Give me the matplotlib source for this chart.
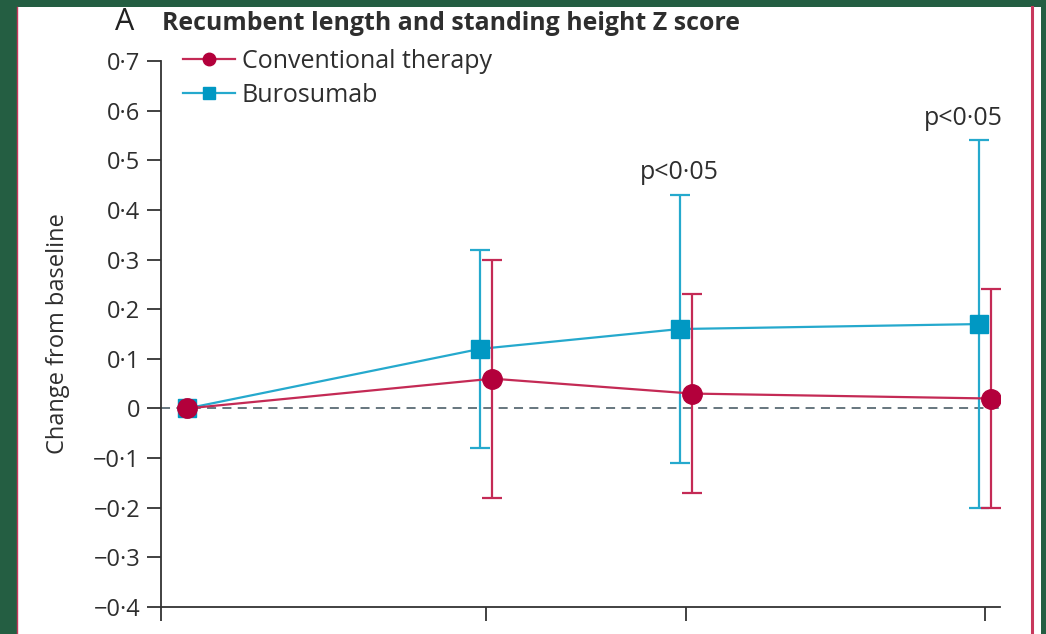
import matplotlib
matplotlib.use('Agg')
import matplotlib.pyplot as plt
from matplotlib.patches import Rectangle
from matplotlib.lines import Line2D


# weeks since baseline
weeks = [0, 24, 40, 64]

conventional_mean = [0.0, 0.06, 0.03, 0.02]
conventional_err = [0.0, 0.24, 0.20, 0.22]

burosumab_mean = [0.0, 0.12, 0.16, 0.17]
burosumab_err = [0.0, 0.20, 0.27, 0.37]

# weeks where burosumab differs, p<0.05
sig_weeks = [40, 64]
sig_label = 'p<0\u00b705'

y_ticks = [-0.4, -0.3, -0.2, -0.1, 0.0, 0.1, 0.2, 0.3, 0.4, 0.5, 0.6, 0.7]

RED = '#b3003b'
RED_LINE = '#c42a55'
BLUE = '#0098c3'
BLUE_LINE = '#25a9cd'
AXIS = '#333333'
TEXT = '#2e2e2e'
GREEN = '#245e42'

plt.rcParams['font.family'] = ['Open Sans', 'DejaVu Sans']

W, H = 1046, 634
fig = plt.figure(figsize=(W / 100, H / 100), dpi=100)
fig.patch.set_facecolor(GREEN)

# white page with the red rules on either side
fig.patches.append(Rectangle((17 / W, 0), (1041 - 17) / W, (H - 7) / H,
                             transform=fig.transFigure, facecolor='white',
                             edgecolor='none', zorder=-2))
fig.lines.append(Line2D([16.8 / W, 16.8 / W], [0, (H - 7) / H], transform=fig.transFigure,
                        color='#c8385c', lw=1.0, zorder=-1))
fig.lines.append(Line2D([1031.5 / W, 1031.5 / W], [0, (H - 7) / H], transform=fig.transFigure,
                        color='#c8385c', lw=2.2, zorder=-1))

ax = fig.add_axes([161 / W, 1 - 607 / H, (1000 - 161) / W, (607 - 61) / H])
ax.set_facecolor('none')
ax.set_zorder(2)

shift = 0.5
blue_x = [w - shift if w else w for w in weeks]
red_x = [w + shift if w else w for w in weeks]

ax.axhline(0, color='#5a6b74', lw=1.3, ls=(0, (5, 3.5)), zorder=1)

ax.errorbar(blue_x, burosumab_mean, yerr=burosumab_err, color=BLUE_LINE, lw=1.6,
            elinewidth=1.6, capsize=7.5, capthick=1.6, marker='s', markersize=13.5,
            markerfacecolor=BLUE, markeredgecolor=BLUE, zorder=3)
ax.errorbar(red_x, conventional_mean, yerr=conventional_err, color=RED_LINE, lw=1.6,
            elinewidth=1.6, capsize=7.5, capthick=1.6, marker='o', markersize=14,
            markerfacecolor=RED, markeredgecolor=RED, zorder=4)

for w in sig_weeks:
    i = weeks.index(w)
    dx = 0 if i < len(weeks) - 1 else -11
    ax.annotate(sig_label, xy=(blue_x[i], burosumab_mean[i] + burosumab_err[i]),
                xytext=(dx, 7), textcoords='offset points', ha='center', va='bottom',
                fontsize=18, color=TEXT)

ax.set_xlim(-2.08, 65.2)
ax.set_ylim(-0.4, 0.7)
ax.set_xticks([-2.08] + weeks[1:])
ax.set_xticklabels([])
ax.set_yticks(y_ticks)


def fmt(v):
    if abs(v) < 1e-9:
        return '0'
    return f'{v:.1f}'.replace('.', '\u00b7').replace('-', '\u2212')


ax.set_yticklabels([fmt(v) for v in y_ticks])
ax.tick_params(axis='both', direction='out', length=10, width=1.3, color=AXIS,
               labelsize=17, labelcolor=TEXT, pad=5)
for side in ['top', 'right']:
    ax.spines[side].set_visible(False)
for side in ['left', 'bottom']:
    ax.spines[side].set_color(AXIS)
    ax.spines[side].set_linewidth(1.3)

ax.set_ylabel('Change from baseline', fontsize=17, color=TEXT)
ax.yaxis.set_label_coords(-0.109, 0.5)

handles = [
    Line2D([], [], color=RED_LINE, lw=1.6, marker='o', markersize=9,
           markerfacecolor=RED, markeredgecolor=RED),
    Line2D([], [], color=BLUE_LINE, lw=1.6, marker='s', markersize=8,
           markerfacecolor=BLUE, markeredgecolor=BLUE),
]
leg = ax.legend(handles, ['Conventional therapy', 'Burosumab'], loc='upper left',
                bbox_to_anchor=(0.026, 1.022), frameon=False, fontsize=18,
                handlelength=2.08, handletextpad=0.28, labelspacing=0.36,
                borderpad=0, borderaxespad=0)
for t in leg.get_texts():
    t.set_color(TEXT)

fig.text(115 / W, 1 - 30 / H, 'A', fontsize=22, color='#222222', va='baseline')
fig.text(162 / W, 1 - 30 / H, 'Recumbent length and standing height Z score',
         fontsize=17.9, fontweight='bold', color=TEXT, va='baseline')

fig.savefig('out.png', dpi=100, facecolor=fig.get_facecolor())
